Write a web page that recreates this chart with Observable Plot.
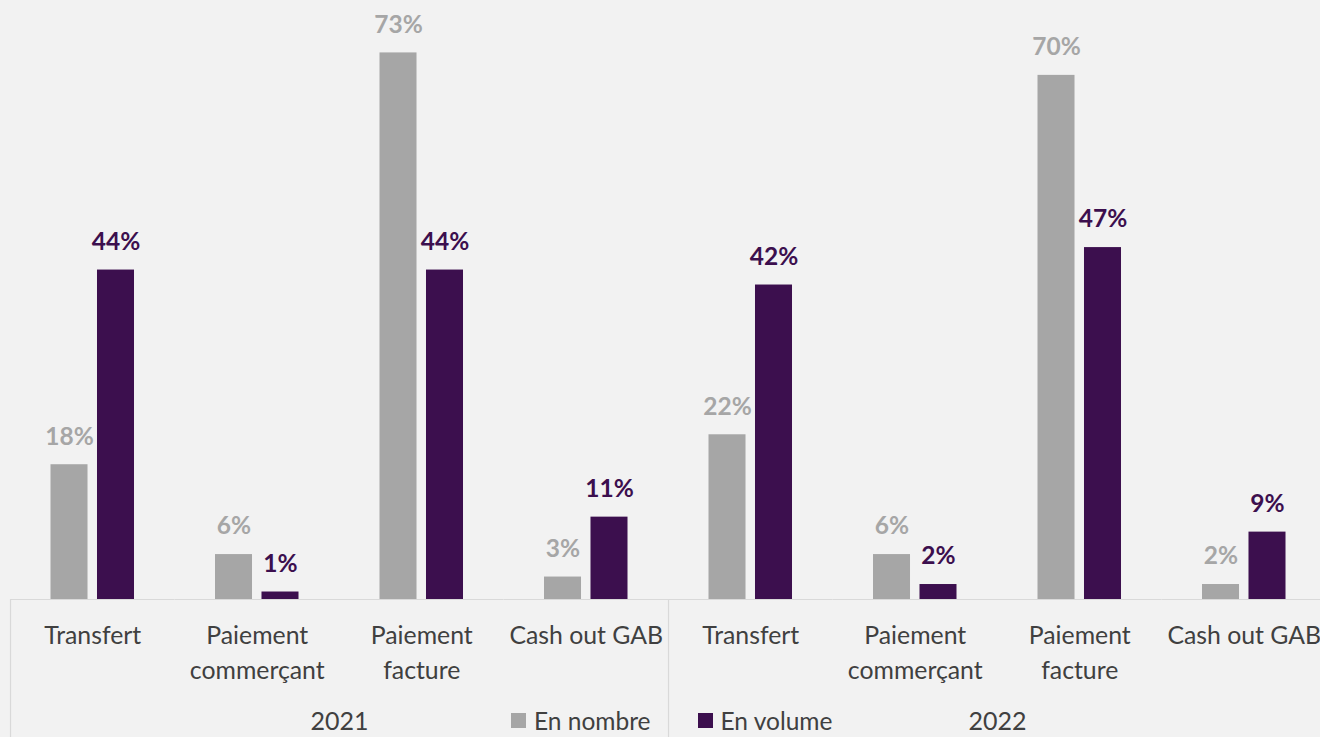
<!DOCTYPE html>
<html>
<head>
<meta charset="utf-8">
<script src="https://cdn.jsdelivr.net/npm/d3@7"></script>
<script src="https://cdn.jsdelivr.net/npm/@observablehq/plot@0.6"></script>
<style>
  html, body { margin: 0; padding: 0; background: #f2f2f2; }
  #wrap { position: relative; width: 1320px; height: 737px; overflow: hidden; }
  #legend { position: absolute; left: 511px; top: 704px; }
  .lg-swatch { margin-right: 47px !important; }
  .lg-swatch > svg { margin-right: 8px !important; }
  .lg-swatches-wrap { margin-left: 0 !important; }
</style>
</head>
<body>
<div id="wrap"><div id="legend"></div></div>
<script>
const years = ["2021", "2022"];
const categories = ["Transfert", "Paiement commerçant", "Paiement facture", "Cash out GAB"];
const categoryLabels = ["Transfert", "Paiement\ncommerçant", "Paiement\nfacture", "Cash out GAB"];
const series = ["En nombre", "En volume"];
const nombre2021 = [18, 6, 73, 3];
const volume2021 = [44, 1, 44, 11];
const nombre2022 = [22, 6, 70, 2];
const volume2022 = [42, 2, 47, 9];

const gray = "#a6a6a6";
const purple = "#3c0f4e";
const textColor = "#404040";

const key = (y, c) => `${y}|${c}`;
const byYear = {
  "2021": [nombre2021, volume2021],
  "2022": [nombre2022, volume2022]
};
const rows = [];
const catRows = [];
for (const yr of years) {
  categories.forEach((c, ci) => {
    catRows.push({key: key(yr, c), label: categoryLabels[ci]});
    series.forEach((s, si) => {
      rows.push({key: key(yr, c), series: s, value: byYear[yr][si][ci]});
    });
  });
}
const keys = catRows.map(d => d.key);

const chart = Plot.plot({
  width: 1320,
  height: 737,
  marginTop: 0,
  marginBottom: 138,
  marginLeft: 10,
  marginRight: -6,
  style: {background: "#f2f2f2", fontFamily: "Lato, sans-serif", overflow: "visible"},
  fx: {domain: keys, padding: 0, round: false, axis: null},
  x: {domain: series, paddingInner: 0.204, paddingOuter: 0.871, round: false, axis: null},
  y: {domain: [0, 80], axis: null},
  color: {domain: series, range: [gray, purple]},
  marks: [
    Plot.barY(rows, {fx: "key", x: "series", y: "value", fill: "series"}),
    Plot.ruleY([0], {stroke: "#d9d9d9", strokeWidth: 1.2}),
    Plot.ruleX(years, {
      fx: y => key(y, categories[0]), x: () => series[0],
      y1: () => 0, y2: () => 0, insetBottom: -138, dx: -59,
      stroke: "#d9d9d9", strokeWidth: 1.2
    }),
    Plot.text(rows, {
      fx: "key", x: "series", y: "value", text: d => `${d.value}%`,
      fill: "series", fontWeight: "bold", fontSize: 24.5, dy: -28
    }),
    Plot.text(catRows, {
      fx: "key", text: "label", frameAnchor: "bottom", lineAnchor: "top",
      dy: 20, lineHeight: 1.4, fontSize: 24.8, fill: textColor
    }),
    Plot.text(years, {
      fx: y => key(y, categories[1]), text: y => y,
      frameAnchor: "bottom-right", textAnchor: "middle",
      dy: 122, lineAnchor: "middle", fontSize: 25, fill: textColor
    })
  ]
});
document.getElementById("wrap").prepend(chart);

const legend = chart.legend("color", {
  className: "lg",
  swatchSize: 15,
  style: {fontSize: "24.5px", fontFamily: "Lato, sans-serif", color: textColor}
});
document.getElementById("legend").append(legend);
</script>
</body>
</html>
